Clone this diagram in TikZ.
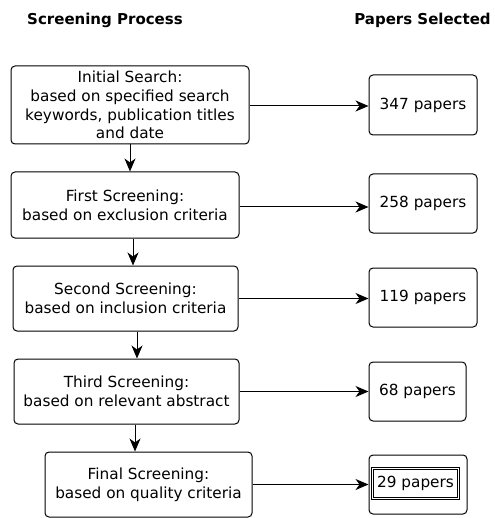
\documentclass[tikz,border=0pt]{standalone}
\usepackage{fontspec}
\setmainfont{DejaVu Sans}
\usetikzlibrary{arrows.meta}
\begin{document}
\begin{tikzpicture}[x=1pt,y=-1pt,
  bodyfont/.style={font=\fontsize{15.3}{18.6}\selectfont},
  stage/.style={draw, rounded corners=4pt, line width=1pt, align=center, inner sep=0pt, bodyfont},
  count/.style={draw, rounded corners=4pt, line width=1pt, align=center, inner sep=0pt, bodyfont},
  final/.style={draw, double, double distance=1.6pt, line width=0.9pt, inner sep=0pt, minimum width=86pt, minimum height=30pt, bodyfont},
  arr/.style={-{Stealth[length=13pt,width=11pt,inset=4pt]}, line width=1pt},
  heading/.style={font=\fontsize{15}{17}\selectfont\bfseries}]
\useasboundingbox (0,0) rectangle (494,518);

% column headings
\node[heading] (h1) at (105,20) {Screening Process};
\node[heading] (h2) at (422.5,20) {Papers Selected};

% screening stages
\node[stage, minimum width=238pt, minimum height=78pt] (s1) at (130,105)
  {Initial Search:\\based on specified search\\keywords, publication titles\\and date};
\node[stage, minimum width=228pt, minimum height=66pt] (s2) at (125,205)
  {First Screening:\\based on exclusion criteria};
\node[stage, minimum width=225pt, minimum height=65pt] (s3) at (125.5,298.5)
  {Second Screening:\\based on inclusion criteria};
\node[stage, minimum width=225pt, minimum height=65pt] (s4) at (126.5,391.5)
  {Third Screening:\\based on relevant abstract};
\node[stage, minimum width=207pt, minimum height=65pt] (s5) at (148.5,484.5)
  {Final Screening:\\based on quality criteria};

% paper counts
\node[count, minimum width=108pt, minimum height=60pt] (c1) at (423,105) {347 papers};
\node[count, minimum width=108pt, minimum height=59pt] (c2) at (423,203.5) {258 papers};
\node[count, minimum width=108pt, minimum height=59pt] (c3) at (423,297.5) {119 papers};
\node[count, minimum width=97pt, minimum height=59pt] (c4) at (417.5,391.5) {68 papers};
\node[count, minimum width=98pt, minimum height=59pt] (c5) at (418,484.5) {};
\node[final] (c5in) at (415.5,483.5) {29 papers};

% stage to count
\draw[arr] ([yshift=-1pt]s1.east) -- ([yshift=-1pt]s1.east -| c1.west);
\draw[arr] ([yshift=-2pt]s2.east) -- ([yshift=-2pt]s2.east -| c2.west);
\draw[arr] (s3.east) -- (s3.east -| c3.west);
\draw[arr] (s4.east) -- (s4.east -| c4.west);
\draw[arr] (s5.east) -- (s5.east -| c5.west);

% stage to stage
\draw[arr] (s1.south) -- (s1.south |- s2.north);
\draw[arr] ([xshift=8pt]s2.south) -- ([xshift=8pt]s2.south |- s3.north);
\draw[arr] ([xshift=11.5pt]s3.south) -- ([xshift=11.5pt]s3.south |- s4.north);
\draw[arr] ([xshift=8.5pt]s4.south) -- ([xshift=8.5pt]s4.south |- s5.north);
\end{tikzpicture}
\end{document}
